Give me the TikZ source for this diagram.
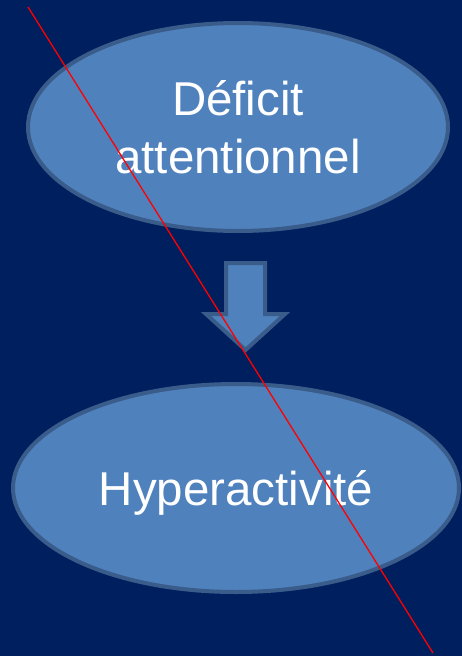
\documentclass[tikz,border=0pt]{standalone}
\usepackage{fontspec}
\setmainfont{Liberation Sans}
\usetikzlibrary{shapes.geometric}
\definecolor{bgnavy}{RGB}{0,31,94}
\definecolor{shapefill}{RGB}{79,129,189}
\definecolor{shapeline}{RGB}{58,92,138}
\begin{document}
\begin{tikzpicture}[x=1pt,y=-1pt,
  oval/.style={ellipse,draw=shapeline,fill=shapefill,line width=4pt,inner sep=0pt,
    text=white,font=\fontsize{47.5}{58}\selectfont,align=center}]
\useasboundingbox (0,0) rectangle (462,656);
\fill[bgnavy] (0,0) rectangle (462,656);
\node[oval,minimum width=420pt,minimum height=208pt] (a) at (238,127) {Déficit\\attentionnel};
\node[oval,minimum width=446pt,minimum height=208pt,text depth=0pt] (b) at (236,488) {Hyperactivité};
\draw[draw=shapeline,fill=shapefill,line width=4pt,line join=miter]
  (226,263) -- (265,263) -- (265,314) -- (285,314) -- (245.5,350) -- (206,314) -- (226,314) -- cycle;
\coordinate (r1) at (28,7);
\coordinate (r2) at (433,653);
\draw[red,line width=1.3pt] (r1) -- (r2);
\end{tikzpicture}
\end{document}
